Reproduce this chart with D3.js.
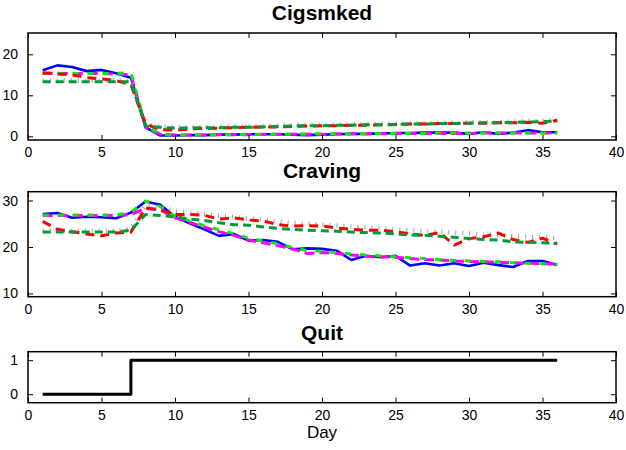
<!DOCTYPE html>
<html>
<head>
<meta charset="utf-8">
<script src="https://cdn.jsdelivr.net/npm/d3@7"></script>
<style>
  body { margin: 0; background: #fff; }
  svg { display: block; }
  text { font-family: "Liberation Sans", Arial, Helvetica, sans-serif; fill: #000; }
  .title { font-weight: bold; font-size: 21px; }
  .tick text { font-size: 14px; }
</style>
</head>
<body>
<div id="chart"></div>
<script>
// days on the x axis
const days = [1,2,3,4,5,6,7,8,9,10,11,12,13,14,15,16,17,18,19,20,21,22,23,24,25,26,27,28,29,30,31,32,33,34,35,36];
const xTicks = [0,5,10,15,20,25,30,35,40];

// Cigsmked series
const cigBlue    = [16.1,17.3,16.9,15.9,16.2,15.4,14.3,2.2,0.2,0.2,0.3,0.3,0.4,0.4,0.5,0.5,0.5,0.4,0.3,0.4,0.5,0.6,0.6,0.7,0.8,0.8,0.9,0.9,0.9,0.6,1.0,0.6,0.9,1.5,1.0,1.0];
const cigMagenta = [15.4,15.4,15.3,15.3,15.3,15.2,15.0,2.3,0.5,0.3,0.3,0.3,0.4,0.4,0.4,0.5,0.5,0.5,0.5,0.5,0.6,0.6,0.6,0.6,0.7,0.7,0.7,0.7,0.7,0.7,0.8,0.8,0.8,0.8,0.8,0.8];
const cigLime    = [15.3,15.3,15.3,15.3,15.3,15.4,15.5,2.6,0.4,0.3,0.3,0.4,0.4,0.4,0.5,0.5,0.5,0.5,0.6,0.6,0.6,0.6,0.7,0.7,0.7,0.7,0.7,0.8,0.8,0.8,0.8,0.8,0.8,0.8,0.8,0.8];
const cigRed     = [15.5,15.2,15.0,14.3,14.0,13.6,12.6,3.0,1.6,1.5,1.8,1.9,2.0,2.1,2.2,2.3,2.3,2.4,2.5,2.6,2.6,2.7,2.7,2.8,2.9,3.0,3.0,3.1,3.1,3.2,3.2,3.3,3.3,3.4,3.2,3.9];
const cigGreen   = [13.3,13.3,13.3,13.3,13.3,13.3,13.3,2.5,2.2,2.0,2.0,2.1,2.1,2.2,2.2,2.3,2.4,2.5,2.6,2.6,2.7,2.7,2.8,2.8,2.9,3.0,3.0,3.1,3.1,3.2,3.3,3.3,3.4,3.5,3.6,3.7];
const cigGray    = [13.6,13.6,13.6,13.6,13.6,13.6,13.6,2.8,2.4,2.2,2.2,2.3,2.3,2.4,2.4,2.5,2.6,2.7,2.8,2.8,2.9,2.9,3.0,3.0,3.1,3.2,3.2,3.3,3.3,3.4,3.5,3.5,3.6,3.7,3.8,3.9];

// Craving series
const crBlue    = [27.1,27.3,26.3,26.5,26.4,26.2,27.4,29.8,29.1,26.5,25.1,23.8,22.4,22.8,21.4,21.5,21.1,19.5,19.7,19.6,19.2,17.2,18.1,17.8,18.1,16.0,16.5,16.0,16.5,15.9,16.6,16.1,15.7,17.0,17.0,16.1];
const crMagenta = [26.8,26.8,26.8,26.8,26.8,26.8,27.0,28.3,28.0,26.3,25.3,24.3,23.3,22.5,21.5,20.9,20.3,19.6,18.6,18.8,18.6,18.3,18.0,17.9,17.8,17.5,17.3,17.2,17.0,16.9,16.8,16.7,16.6,16.5,16.4,16.3];
const crLime    = [26.9,26.9,26.9,26.9,26.9,26.9,27.5,29.9,28.7,26.6,25.6,24.6,23.7,22.9,21.9,21.3,20.7,19.9,19.2,19.1,18.8,18.5,18.3,18.1,17.9,17.7,17.5,17.3,17.1,17.0,16.9,16.8,16.6,16.5,16.4,16.3];
const crRed     = [25.5,23.8,23.3,22.8,22.4,23.0,23.2,28.4,28.0,27.0,27.0,26.8,26.0,26.3,25.8,25.6,24.8,24.5,24.6,24.5,24.1,23.8,23.6,23.6,23.3,22.8,22.5,23.1,20.4,21.8,22.2,23.0,21.6,21.0,21.9,20.6];
const crGreen   = [23.2,23.2,23.2,23.2,23.2,23.2,23.6,27.0,26.8,26.5,26.0,25.7,25.2,24.8,24.7,24.3,24.0,23.8,23.6,23.5,23.4,23.2,23.1,23.0,22.8,22.6,22.5,22.3,22.1,21.8,21.6,21.5,21.1,21.0,20.9,20.8];
const crGray    = [23.5,23.5,23.5,23.5,23.5,23.5,24.0,29.0,28.5,27.8,27.4,27.0,26.7,26.4,26.1,25.8,25.5,25.2,25.0,24.8,24.6,24.4,24.2,24.0,23.8,23.6,23.4,23.3,23.1,22.9,22.7,22.6,22.4,22.2,22.1,21.9];

// Quit indicator
const quit = [0,0,0,0,0,0,1,1,1,1,1,1,1,1,1,1,1,1,1,1,1,1,1,1,1,1,1,1,1,1,1,1,1,1,1,1];

const width = 626, height = 450;
const left = 28, right = 616;

const svg = d3.select("#chart").append("svg")
    .attr("width", width)
    .attr("height", height);

const x = d3.scaleLinear().domain([0, 40]).range([left, right]);

// line styles for the model series
const styles = {
    gray:    {color: "#a0a0a0", width: 4.5, dash: "1,6"},
    green:   {color: "#009a3a", width: 3,   dash: "8,5"},
    red:     {color: "#ff0000", width: 3,   dash: "9,6"},
    blue:    {color: "#0000ff", width: 2.6, dash: null},
    magenta: {color: "#ff00ff", width: 3,   dash: "10,5"},
    lime:    {color: "#00ee00", width: 3,   dash: "6,9"}
};

function drawPanel(p) {
    const y = d3.scaleLinear().domain(p.domain).range([p.bottom, p.top]);
    const g = svg.append("g");

    // title
    g.append("text")
        .attr("class", "title")
        .attr("x", 322)
        .attr("y", p.titleY)
        .attr("text-anchor", "middle")
        .text(p.title);

    // series
    const line = d3.line()
        .x((d, i) => x(days[i]))
        .y(d => y(d))
        .curve(p.curve || d3.curveLinear);

    p.series.forEach(s => {
        const st = s.style;
        g.append("path")
            .datum(s.values)
            .attr("fill", "none")
            .attr("stroke", st.color)
            .attr("stroke-width", st.width)
            .attr("stroke-dasharray", st.dash)
            .attr("stroke-linejoin", "round")
            .attr("d", line);
    });

    // axes: ticks inward on all four sides
    const bottomAxis = d3.axisBottom(x).tickValues(xTicks).tickSize(-5).tickFormat(d3.format("d"));
    const topAxis = d3.axisTop(x).tickValues(xTicks).tickSize(-5).tickFormat("");
    const leftAxis = d3.axisLeft(y).tickValues(p.yTicks).tickSize(-5).tickPadding(10).tickFormat(d3.format("d"));
    const rightAxis = d3.axisRight(y).tickValues(p.yTicks).tickSize(-5).tickFormat("");

    const gb = g.append("g").attr("transform", `translate(0,${p.bottom})`).call(bottomAxis);
    gb.selectAll(".tick text").attr("dy", "0.71em").attr("y", 7);
    g.append("g").attr("transform", `translate(0,${p.top})`).call(topAxis);
    g.append("g").attr("transform", `translate(${left},0)`).call(leftAxis);
    g.append("g").attr("transform", `translate(${right},0)`).call(rightAxis);

    g.selectAll(".domain").remove();
    g.selectAll(".tick line").attr("stroke", "#000").attr("stroke-width", 1);

    // box
    g.append("rect")
        .attr("x", left)
        .attr("y", p.top)
        .attr("width", right - left)
        .attr("height", p.bottom - p.top)
        .attr("fill", "none")
        .attr("stroke", "#000")
        .attr("stroke-width", 1.5);
}

drawPanel({
    title: "Cigsmked", titleY: 20,
    top: 33, bottom: 140, domain: [-0.9, 25.2], yTicks: [0, 10, 20],
    series: [
        {values: cigBlue, style: styles.blue},
        {values: cigMagenta, style: styles.magenta},
        {values: cigLime, style: styles.lime},
        {values: cigGray, style: styles.gray},
        {values: cigRed, style: styles.red},
        {values: cigGreen, style: styles.green}
    ]
});

drawPanel({
    title: "Craving", titleY: 178,
    top: 191.7, bottom: 296.7, domain: [9.3, 31.9], yTicks: [10, 20, 30],
    series: [
        {values: crBlue, style: styles.blue},
        {values: crMagenta, style: styles.magenta},
        {values: crLime, style: styles.lime},
        {values: crGray, style: styles.gray},
        {values: crRed, style: styles.red},
        {values: crGreen, style: styles.green}
    ]
});

drawPanel({
    title: "Quit", titleY: 340,
    top: 351.7, bottom: 402.7, domain: [-0.25, 1.25], yTicks: [0, 1],
    curve: d3.curveStepAfter,
    series: [
        {values: quit, style: {color: "#000", width: 3, dash: null}}
    ]
});

// x label
svg.append("text")
    .attr("x", 322)
    .attr("y", 438)
    .attr("text-anchor", "middle")
    .style("font-size", "17px")
    .text("Day");
</script>
</body>
</html>
